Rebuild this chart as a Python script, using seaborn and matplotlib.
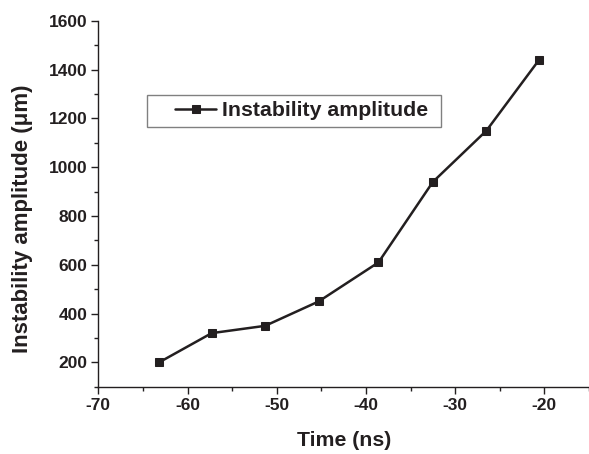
import matplotlib
matplotlib.use("Agg")
import matplotlib.pyplot as plt
import seaborn as sns
import pandas as pd
from matplotlib.ticker import MultipleLocator
from matplotlib.patches import Rectangle

time_ns = [-63.2, -57.3, -51.3, -45.3, -38.6, -32.5, -26.5, -20.6]
amplitude_um = [200, 320, 350, 450, 610, 940, 1150, 1440]
series_label = "Instability amplitude"

sns.set_style("ticks")
plt.rcParams['font.family'] = ['Liberation Sans', 'DejaVu Sans']
plt.rcParams['axes.unicode_minus'] = False

df = pd.DataFrame({"Time": time_ns, "Amp": amplitude_um, "series": series_label})

INK = "#231f20"
fig = plt.figure(figsize=(5.89, 4.54), dpi=100)
ax = fig.add_axes([0.167, 0.148, 0.833, 0.806])

sns.lineplot(data=df, x="Time", y="Amp", hue="series", palette=[INK],
             marker="s", markersize=6, markeredgecolor=INK,
             linewidth=1.8, ax=ax)

ax.set_xlim(-70, -15)
ax.set_ylim(100, 1600)
ax.xaxis.set_major_locator(MultipleLocator(10))
ax.xaxis.set_minor_locator(MultipleLocator(5))
ax.yaxis.set_minor_locator(MultipleLocator(100))
ax.set_yticks(range(200, 1601, 200))

for s in ["top", "right"]:
    ax.spines[s].set_visible(False)
for s in ["left", "bottom"]:
    ax.spines[s].set_linewidth(1.0)
    ax.spines[s].set_color(INK)

ax.tick_params(which="major", direction="out", length=5, width=1.0, colors=INK,
               labelsize=12.5, pad=3)
ax.tick_params(which="minor", direction="out", length=3, width=1.0, colors=INK)
for lab in ax.get_xticklabels() + ax.get_yticklabels():
    lab.set_fontweight("bold")

ax.set_xlabel("Time (ns)", fontsize=15.3, fontweight="bold", color=INK, labelpad=13)
ax.set_ylabel("Instability amplitude (\u03bcm)", fontsize=16, fontweight="bold", color=INK)
ax.yaxis.set_label_coords(-0.1333, 0.4586)

leg = ax.legend(loc="center left", bbox_to_anchor=(175 / 589, 1 - 111 / 454),
                bbox_transform=fig.transFigure, borderaxespad=0, borderpad=0,
                frameon=False, handlelength=1.93, handletextpad=0.28,
                prop={"weight": "bold", "size": 15.3})
for t in leg.get_texts():
    t.set_color(INK)

fig.patches.append(Rectangle((146.7 / 589, 1 - 127.3 / 454), 294 / 589, 32.3 / 454,
                             transform=fig.transFigure, fill=False,
                             edgecolor="#808080", linewidth=1.0))

fig.savefig("out.png", dpi=100)
